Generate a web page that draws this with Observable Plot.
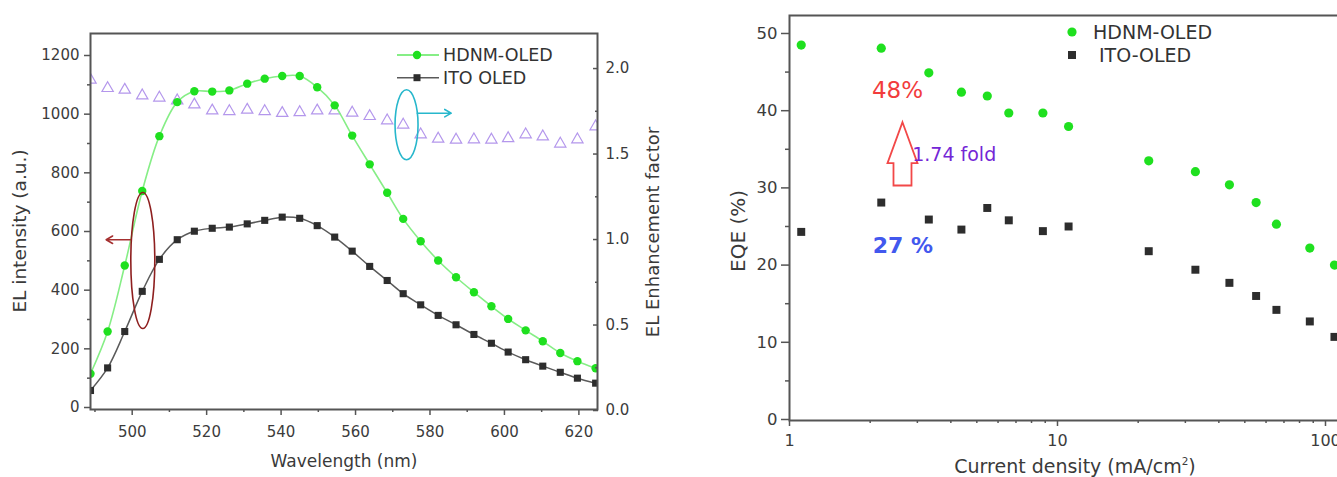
<!DOCTYPE html>
<html><head><meta charset="utf-8">
<script src="https://cdn.jsdelivr.net/npm/d3@7"></script>
<script src="https://cdn.jsdelivr.net/npm/@observablehq/plot@0.6"></script>
<style>
html,body{margin:0;padding:0;background:#fff;overflow:hidden;width:1337px;height:477px}
#root{position:relative;width:1337px;height:477px;overflow:hidden;font-family:"DejaVu Sans",sans-serif;color:#3a3a3a}
.panel{position:absolute;top:0}
.title{position:absolute;white-space:nowrap;line-height:1;color:#3a3a3a;transform:translate(-50%,-50%)}
.rot{transform:translate(-50%,-50%) rotate(-90deg)}
sup{font-size:55%;vertical-align:0.7em}
</style></head><body><div id="root"></div>
<script>
// ---------- Left panel data (EL spectra) ----------
const wavelength = [488.8, 493.4, 498.0, 502.7, 507.3, 512.1, 516.7, 521.5, 526.1, 530.9, 535.6, 540.3, 545.0, 549.7, 554.4,
                    559.1, 563.8, 568.5, 572.8, 577.5, 582.2, 587.0, 591.8, 596.5, 601.0, 605.7, 610.3, 615.0, 619.6, 624.5];
const elHDNM = [115, 259, 484, 738, 925, 1041, 1078, 1077, 1081, 1104, 1121, 1130, 1130, 1092, 1030,
                927, 829, 732, 643, 567, 501, 444, 393, 345, 302, 263, 226, 186, 158, 134];
const elITO = [58, 135, 259, 396, 505, 572, 601, 611, 615, 626, 638, 649, 645, 620, 581,
               533, 481, 433, 388, 350, 314, 282, 249, 219, 189, 163, 141, 120, 100, 83];
const enhancement = [1.934, 1.885, 1.875, 1.842, 1.829, 1.813, 1.789, 1.754, 1.750, 1.758, 1.750, 1.739, 1.744, 1.754, 1.754,
                     1.741, 1.721, 1.696, 1.671, 1.614, 1.589, 1.583, 1.585, 1.583, 1.592, 1.614, 1.602, 1.560, 1.585, 1.661];
const wlMajor = [500, 520, 540, 560, 580, 600, 620];
const wlMinor = [490, 510, 530, 550, 570, 590, 610];
const elMajor = [0, 200, 400, 600, 800, 1000, 1200];
const elMinor = [100, 300, 500, 700, 900, 1100];
const efMajor = [0, 0.5, 1.0, 1.5, 2.0];
const efMinor = [0.25, 0.75, 1.25, 1.75];
const wlDomain = [488.8, 625.0];
const elDomain = [-6.8, 1275];
const efDomain = [0.006, 2.205];
// annotation anchors (data units)
const redLoop = {wavelength: 502.85, intensity: 501};
const redArrow = {from: 499.6, to: 493.0, intensity: 572};
const cyanLoop = {wavelength: 573.7, factor: 1.671};
const cyanArrow = {from: 576.6, to: 585.7, factor: 1.739};

// ---------- Right panel data (EQE) ----------
const current = [1.106, 2.20, 3.31, 4.38, 5.47, 6.58, 8.82, 11.0, 21.9, 32.7, 43.8, 55.1, 65.6, 87.4, 108];
const eqeHDNM = [48.5, 48.1, 44.9, 42.4, 41.9, 39.7, 39.7, 37.95, 33.5, 32.1, 30.4, 28.1, 25.3, 22.2, 20.0];
const eqeITO  = [24.3, 28.1, 25.9, 24.6, 27.4, 25.8, 24.4, 25.0, 21.8, 19.4, 17.7, 16.0, 14.2, 12.7, 10.7];
const jMajor = [1, 10, 100];
const jMinor = [2, 3, 4, 5, 6, 7, 8, 9, 20, 30, 40, 50, 60, 70, 80, 90];
const eqeMajor = [0, 10, 20, 30, 40, 50];
const eqeMinor = [5, 15, 25, 35, 45];
const jDomain = [1, 125.9];
const eqeDomain = [-0.13, 52.33];
const eqeTexts = [
  {j: 2.53, eqe: 42.6, text: "48%"},
  {j: 2.65, eqe: 22.5, text: "27 %"},
  {j: 2.87, eqe: 34.3, text: "1.74 fold"}
];
const blockArrow = {j: 2.64, eqe: 34.4};

// ---------- helpers ----------
const toL = r => elDomain[0] + (r - efDomain[0]) * (elDomain[1] - elDomain[0]) / (efDomain[1] - efDomain[0]);
const toR = l => efDomain[0] + (l - elDomain[0]) * (efDomain[1] - efDomain[0]) / (elDomain[1] - elDomain[0]);
function ellipseSymbol(rx, ry) {
  const k = 0.5523;
  return {draw(c) {
    c.moveTo(rx, 0);
    c.bezierCurveTo(rx, ry * k, rx * k, ry, 0, ry);
    c.bezierCurveTo(-rx * k, ry, -rx, ry * k, -rx, 0);
    c.bezierCurveTo(-rx, -ry * k, -rx * k, -ry, 0, -ry);
    c.bezierCurveTo(rx * k, -ry, rx, -ry * k, rx, 0);
    c.closePath();
  }};
}
const blockArrowSymbol = {draw(c) {
  c.moveTo(0, -31.7); c.lineTo(15, 9.3); c.lineTo(9, 9.3); c.lineTo(9, 31.6);
  c.lineTo(-9, 31.6); c.lineTo(-9, 9.3); c.lineTo(-15, 9.3); c.closePath();
}};

const FONT = '"DejaVu Sans", sans-serif';
const GREEN = "#1fe01f", GREENLINE = "#86ee86", BLACK = "#2d2d2d", GREY = "#5a5a5a", TRI = "#b497ec";
const AX = "#555";

const elRows = wavelength.map((w, i) => ({w, hdnm: elHDNM[i], ito: elITO[i], ef: toL(enhancement[i])}));

const left = Plot.plot({
  width: 700, height: 477, marginLeft: 90, marginRight: 103, marginTop: 33, marginBottom: 68,
  style: {fontFamily: FONT, fontSize: "15px", color: "#3c3c3c", background: "transparent", overflow: "visible"},
  x: {domain: wlDomain, axis: null},
  y: {domain: elDomain, axis: null},
  marks: [
    Plot.dot(elRows, {x: "w", y: "ef", symbol: "triangle", r: 4.2, stroke: TRI, strokeWidth: 1.2, fill: "none", clip: true}),
    Plot.line(elRows, {x: "w", y: "hdnm", stroke: GREENLINE, strokeWidth: 1.6, curve: "catmull-rom", clip: true}),
    Plot.line(elRows, {x: "w", y: "ito", stroke: GREY, strokeWidth: 1.5, curve: "catmull-rom", clip: true}),
    Plot.dot(elRows, {x: "w", y: "hdnm", r: 4.2, fill: GREEN, clip: true}),
    Plot.dot(elRows, {x: "w", y: "ito", symbol: "square", r: 4, fill: BLACK, clip: true}),
    // annotations
    Plot.dot([redLoop], {x: "wavelength", y: "intensity", symbol: ellipseSymbol(12, 68), r: 5, stroke: "#8e1f1f", strokeWidth: 1.6, fill: "none"}),
    Plot.arrow([redArrow], {x1: "from", x2: "to", y1: "intensity", y2: "intensity", stroke: "#a53030", strokeWidth: 1.6, headLength: 7}),
    Plot.dot([cyanLoop], {x: "wavelength", y: d => toL(d.factor), symbol: ellipseSymbol(11.5, 35), r: 5, stroke: "#27b7cc", strokeWidth: 1.6, fill: "none"}),
    Plot.arrow([cyanArrow], {x1: "from", x2: "to", y1: d => toL(d.factor), y2: d => toL(d.factor), stroke: "#27b7cc", strokeWidth: 1.6, headLength: 7}),
    // axes
    Plot.axisX({ticks: wlMinor, tickSize: 3, fill: "none", stroke: AX, strokeWidth: 1.5, label: null}),
    Plot.axisX({ticks: wlMajor, tickSize: 6, tickPadding: 11, tickFormat: d => String(d), stroke: AX, strokeWidth: 1.5, label: null, fontSize: 15}),
    Plot.axisY({ticks: elMinor, tickSize: 3, fill: "none", stroke: AX, strokeWidth: 1.5, label: null}),
    Plot.axisY({ticks: elMajor, tickSize: 6, tickPadding: 5, tickFormat: d => String(d), stroke: AX, strokeWidth: 1.5, label: null, fontSize: 15}),
    Plot.axisY({anchor: "right", ticks: efMinor.map(toL), tickSize: -3, fill: "none", stroke: AX, strokeWidth: 1.5, label: null}),
    Plot.axisY({anchor: "right", ticks: efMajor.map(toL), tickSize: -5, tickPadding: 13, tickFormat: d => d3.format(".1f")(toR(d)), stroke: AX, strokeWidth: 1.5, label: null, fontSize: 15}),
    Plot.frame({stroke: AX, strokeWidth: 2})
  ]
});

const hd = current.map((j, i) => ({j, eqe: eqeHDNM[i]}));
const it = current.map((j, i) => ({j, eqe: eqeITO[i]}));

const right = Plot.plot({
  width: 680, height: 477, marginLeft: 89, marginRight: 28.2, marginTop: 15, marginBottom: 57,
  style: {fontFamily: FONT, fontSize: "16px", color: "#3c3c3c", background: "transparent", overflow: "visible"},
  x: {type: "log", domain: jDomain, axis: null},
  y: {domain: eqeDomain, axis: null},
  marks: [
    Plot.dot(hd, {x: "j", y: "eqe", r: 4.6, fill: GREEN}),
    Plot.dot(it, {x: "j", y: "eqe", symbol: "square", r: 4.5, fill: BLACK}),
    Plot.dot([blockArrow], {x: "j", y: "eqe", symbol: blockArrowSymbol, r: 5, stroke: "#f24848", strokeWidth: 1.8, fill: "none"}),
    Plot.text(eqeTexts.slice(0, 1), {x: "j", y: "eqe", text: "text", fill: "#f23c3c", fontSize: 23}),
    Plot.text(eqeTexts.slice(1, 2), {x: "j", y: "eqe", text: "text", fill: "#4258ee", fontSize: 22, fontWeight: "bold"}),
    Plot.text(eqeTexts.slice(2, 3), {x: "j", y: "eqe", text: "text", fill: "#7426d6", fontSize: 19, textAnchor: "start"}),
    Plot.axisX({ticks: jMinor, tickSize: 3, fill: "none", stroke: AX, strokeWidth: 1.5, label: null}),
    Plot.axisX({ticks: jMajor, tickSize: 6, tickPadding: 8, tickFormat: d => String(d), stroke: AX, strokeWidth: 1.5, label: null, fontSize: 16}),
    Plot.axisY({ticks: eqeMinor, tickSize: 4, fill: "none", stroke: AX, strokeWidth: 1.5, label: null}),
    Plot.axisY({ticks: eqeMajor, tickSize: 8, tickPadding: 4, tickFormat: d => String(d), stroke: AX, strokeWidth: 1.5, label: null, fontSize: 16.5}),
    Plot.frame({stroke: AX, strokeWidth: 2})
  ]
});

const root = document.getElementById("root");
left.classList.add("panel"); left.style.left = "0px";
right.classList.add("panel"); right.style.left = "700px";
root.appendChild(left);
root.appendChild(right);

// legends (overlay)
const ns = "http://www.w3.org/2000/svg";
const ov = document.createElementNS(ns, "svg");
ov.setAttribute("width", 1337); ov.setAttribute("height", 477);
ov.style.position = "absolute"; ov.style.left = "0"; ov.style.top = "0"; ov.style.pointerEvents = "none";
ov.innerHTML = `
  <g font-family='${FONT}' fill='#333'>
    <line x1='397' x2='439' y1='55' y2='55' stroke='${GREENLINE}' stroke-width='1.8'/>
    <circle cx='417' cy='55' r='4.2' fill='${GREEN}'/>
    <text x='443' y='55' dy='0.36em' font-size='17.5'>HDNM-OLED</text>
    <line x1='397' x2='439' y1='77.7' y2='77.7' stroke='${GREY}' stroke-width='1.6'/>
    <rect x='413.5' y='74.2' width='7' height='7' fill='${BLACK}'/>
    <text x='443' y='77.7' dy='0.36em' font-size='17.5'>ITO OLED</text>
    <circle cx='1072' cy='32' r='4.6' fill='${GREEN}'/>
    <text x='1093' y='32' dy='0.36em' font-size='19'>HDNM-OLED</text>
    <rect x='1068' y='51' width='8' height='8' fill='${BLACK}'/>
    <text x='1099' y='55' dy='0.36em' font-size='19'>ITO-OLED</text>
  </g>`;
root.appendChild(ov);

// axis titles
function title(html, x, y, size, rot) {
  const d = document.createElement("div");
  d.className = "title" + (rot ? " rot" : "");
  d.style.left = x + "px"; d.style.top = y + "px"; d.style.fontSize = size + "px";
  d.innerHTML = html;
  root.appendChild(d);
}
title("EL intensity (a.u.)", 20, 231, 18.5, true);
title("Wavelength (nm)", 344, 461, 17, false);
title("EL Enhancement factor", 653, 232, 18, true);
title("EQE (%)", 738, 231, 20, true);
title("Current density (mA/cm<sup>2</sup>)", 1075, 466, 19, false);
</script></body></html>
